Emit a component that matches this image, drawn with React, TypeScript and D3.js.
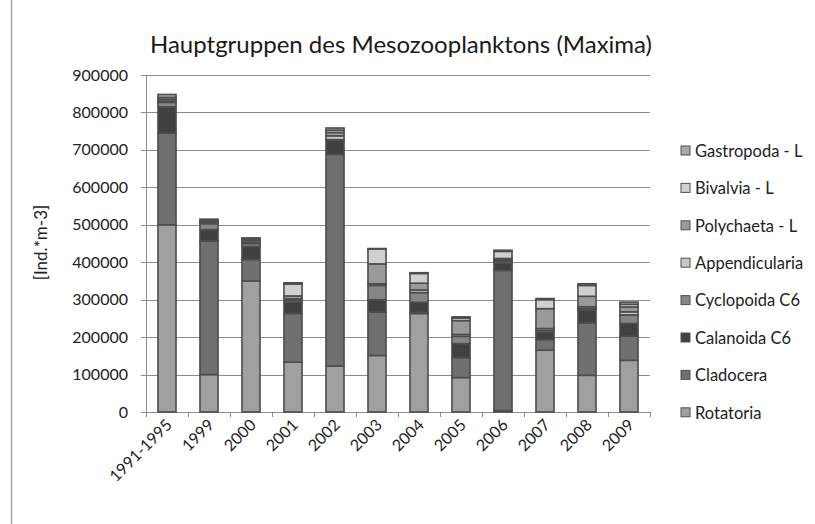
import React from "react";
import * as d3 from "d3";

const categories = ["1991-1995", "1999", "2000", "2001", "2002", "2003", "2004", "2005", "2006", "2007", "2008", "2009"];
const seriesNames = ["Rotatoria", "Cladocera", "Calanoida C6", "Cyclopoida C6", "Appendicularia", "Polychaeta - L", "Bivalvia - L", "Gastropoda - L"];
const rotatoria = [500000, 100000, 350000, 133000, 123000, 151000, 263000, 92000, 4000, 165000, 98000, 138000];
const cladocera = [245000, 357000, 57000, 130000, 565000, 116000, 3000, 53000, 374000, 28500, 140000, 64500];
const calanoida = [70000, 30000, 35000, 30000, 37500, 33000, 27000, 37600, 19000, 19500, 34000, 34000];
const cyclopoida = [12000, 16000, 8000, 5000, 2000, 38000, 26000, 19500, 5000, 5000, 4000, 23000];
const appendicularia = [3000, 2000, 3000, 4000, 10000, 4500, 7000, 5000, 4000, 5000, 5000, 8000];
const polychaeta = [5000, 3000, 5000, 8000, 9000, 53000, 18000, 37000, 4000, 53000, 28000, 13000];
const bivalvia = [5000, 4000, 4000, 32000, 6000, 40000, 26000, 7000, 19000, 24000, 29000, 7000];
const gastropoda = [8000, 3000, 3000, 3000, 6000, 1000, 2000, 3000, 3000, 3000, 4500, 6000];
const seriesColors = ["#a0a0a0", "#707070", "#404040", "#868686", "#c8c8c8", "#9a9a9a", "#d0d0d0", "#a8a8a8"];
const yTicks = [0, 100000, 200000, 300000, 400000, 500000, 600000, 700000, 800000, 900000];

const seriesValues = [rotatoria, cladocera, calanoida, cyclopoida, appendicularia, polychaeta, bivalvia, gastropoda];

export default function App() {
  const W = 815, H = 524;
  const left = 146, right = 650, top = 75, bottom = 412;
  const font = "Lato, 'Open Sans', sans-serif";

  const table = categories.map((c, i) => {
    const row: any = { cat: c };
    seriesNames.forEach((s, k) => (row[s] = seriesValues[k][i]));
    return row;
  });
  const stack = d3.stack().keys(seriesNames)(table as any);

  const x = d3.scaleBand().domain(categories).range([left, right]).paddingInner(0.57).paddingOuter(0.285);
  const y = d3.scaleLinear().domain([0, 900000]).range([bottom, top]);
  const step = x.step();

  const legendOrder = seriesNames.map((s, k) => ({ s, k })).reverse();

  return (
    <svg width={W} height={H} style={{ position: "absolute", left: 0, top: 0, background: "#fff" }} fontFamily={font}>
      <rect x={0} y={0} width={W} height={H} fill="#fff" />
      <line x1={11.5} x2={11.5} y1={0} y2={H} stroke="#a8a8a8" strokeWidth={1.5} />
      <text x={401} y={53} textAnchor="middle" fontSize={24} fill="#1a1a1a">Hauptgruppen des Mesozooplanktons (Maxima)</text>

      {yTicks.map((t) => (
        <g key={t}>
          <line x1={left} x2={right} y1={Math.round(y(t)) + 0.5} y2={Math.round(y(t)) + 0.5} stroke="#8c8c8c" strokeWidth={1} />
          <line x1={left - 5} x2={left} y1={Math.round(y(t)) + 0.5} y2={Math.round(y(t)) + 0.5} stroke="#8c8c8c" strokeWidth={1} />
          <text x={128} y={y(t)} dy="0.35em" textAnchor="end" fontSize={16} fill="#222">{t}</text>
        </g>
      ))}
      <line x1={left + 0.5} x2={left + 0.5} y1={top} y2={bottom} stroke="#8c8c8c" strokeWidth={1} />
      {d3.range(categories.length + 1).map((i) => (
        <line key={i} x1={left + i * step + 0.5} x2={left + i * step + 0.5} y1={bottom} y2={bottom + 5} stroke="#8c8c8c" strokeWidth={1} />
      ))}

      {stack.map((layer, k) => (
        <g key={layer.key} fill={seriesColors[k]} stroke="#4d4d4d" strokeWidth={1.6}>
          {layer.map((d, i) => (
            <rect key={i} x={x(categories[i])!} width={x.bandwidth()} y={y(d[1])} height={Math.max(0, y(d[0]) - y(d[1]))} />
          ))}
        </g>
      ))}

      {categories.map((c) => (
        <text key={c} transform={`translate(${x(c)! + x.bandwidth() / 2 + 6},${bottom + 14}) rotate(-45)`} textAnchor="end" fontSize={16} fill="#222">{c}</text>
      ))}

      <text transform={`translate(47,${(top + bottom) / 2 - 1}) rotate(-90)`} textAnchor="middle" fontSize={17} fill="#222">[Ind.*m-3]</text>

      {legendOrder.map(({ s, k }, j) => (
        <g key={s} transform={`translate(681,${151 + j * 37.4})`}>
          <rect x={0} y={-5} width={9} height={9} fill={seriesColors[k]} stroke="#505050" strokeWidth={1} />
          <text x={14} y={0} dy="0.35em" fontSize={16.5} fill="#222">{s}</text>
        </g>
      ))}
    </svg>
  );
}
